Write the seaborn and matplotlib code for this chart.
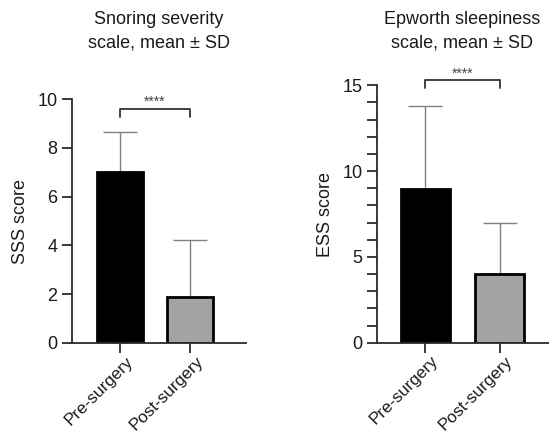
import matplotlib
matplotlib.use("Agg")
import matplotlib.pyplot as plt
import matplotlib.transforms as mtransforms
import pandas as pd
import seaborn as sns
from matplotlib.ticker import MultipleLocator

sns.set_style("ticks")
plt.rcParams["font.family"] = ["Liberation Sans", "DejaVu Sans"]

groups = ["Pre-surgery", "Post-surgery"]
sss_mean = [7.0, 1.9]
sss_sd = [1.65, 2.33]
ess_mean = [8.95, 4.02]
ess_sd = [4.85, 2.93]

bar_colors = ["#000000", "#a3a2a7"]
axis_color = "#2a2a2a"
err_color = "#808080"


def draw_panel(fig, ax, means, sds, ylabel, ylim, major, minor, bracket):
    df = pd.DataFrame({"group": groups, "value": means})
    sns.barplot(data=df, x="group", y="value", hue="group", palette=bar_colors,
                legend=False, width=0.66, edgecolor="black", linewidth=2.0,
                errorbar=None, ax=ax, zorder=2)
    ax.errorbar(x=[0, 1], y=means, yerr=[[0, 0], sds], fmt="none",
                ecolor=err_color, elinewidth=1.0, capsize=12, capthick=1.0, zorder=1)
    sns.despine(ax=ax)
    for s in ["left", "bottom"]:
        ax.spines[s].set_color(axis_color)
        ax.spines[s].set_linewidth(1.3)
    ax.set_ylim(*ylim)
    ax.yaxis.set_major_locator(MultipleLocator(major))
    if minor:
        ax.yaxis.set_minor_locator(MultipleLocator(minor))
    ax.tick_params(axis="both", which="both", length=7, width=1.3, color=axis_color,
                   labelsize=13, labelcolor="#1a1a1a")
    ax.tick_params(axis="x", pad=0.5, labelsize=12.3)
    ax.set_xlabel("")
    ax.set_ylabel(ylabel, fontsize=13, color="#1a1a1a", labelpad=6)
    shift = mtransforms.ScaledTranslation(4 / 72, 0, fig.dpi_scale_trans)
    for lab in ax.get_xticklabels():
        lab.set_rotation(45)
        lab.set_ha("right")
        lab.set_va("top")
        lab.set_rotation_mode("anchor")
        lab.set_transform(lab.get_transform() + shift)
    y_line, y_end, y_star = bracket
    ax.plot([0, 0, 1, 1], [y_end, y_line, y_line, y_end], color="#333333",
            lw=1.3, clip_on=False)
    ax.text(0.5, y_star, "****", ha="center", va="center", fontsize=10,
            color="#444444", clip_on=False)
    return ax


fig = plt.figure(figsize=(5.49, 4.34), dpi=100)
ax1 = fig.add_axes([0.131, 0.2097, 0.317, 0.562])
ax2 = fig.add_axes([0.6867, 0.2104, 0.313, 0.593])

draw_panel(fig, ax1, sss_mean, sss_sd, "SSS score", (0, 10), 2, None, (9.59, 9.28, 9.88))
ax1.set_xlim(-0.686, 1.8)
draw_panel(fig, ax2, ess_mean, ess_sd, "ESS score", (0, 15), 5, 1, (15.31, 14.82, 15.68))
ax2.set_xlim(-0.651, 1.66)

fig.text(159 / 549, 1 - 11 / 434, "Snoring severity\nscale, mean \u00b1 SD", ha="center",
         va="top", fontsize=13, linespacing=1.5, color="#1a1a1a")
fig.text(462 / 549, 1 - 11 / 434, "Epworth sleepiness\nscale, mean \u00b1 SD", ha="center",
         va="top", fontsize=13, linespacing=1.5, color="#1a1a1a")

fig.savefig("out.png", dpi=100)
